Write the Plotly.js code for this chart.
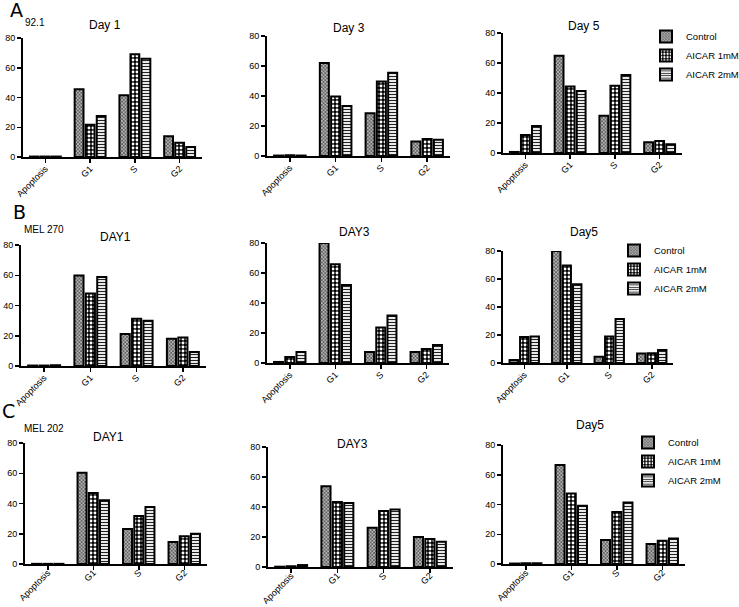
<!DOCTYPE html>
<html>
<head>
<meta charset="utf-8">
<script src="https://cdn.plot.ly/plotly-3.0.1.min.js"></script>
<style>html,body{margin:0;padding:0;background:#fff;}#chart{width:739px;height:607px;}</style>
</head>
<body>
<div id="chart"></div>
<script>
// ---- data ----
const categories = ['Apoptosis', 'G1', 'S', 'G2'];
const seriesNames = ['Control', 'AICAR 1mM', 'AICAR 2mM'];
const yTicks = [0, 20, 40, 60, 80];

// each panel: [Control, AICAR 1mM, AICAR 2mM], values per category
const A_DAY1 = [[0.3, 45.5, 41.5, 14.0], [0.3, 21.7, 69.0, 9.6], [0.3, 27.6, 66.0, 6.7]];
const A_DAY3 = [[0.3, 62.0, 28.5, 9.6], [0.5, 39.6, 49.7, 11.4], [0.3, 33.4, 55.5, 10.9]];
const A_DAY5 = [[0.7, 64.9, 24.9, 7.1], [12.0, 44.4, 44.9, 8.0], [18.0, 41.3, 52.0, 5.8]];
const B_DAY1 = [[0.3, 59.8, 21.1, 18.0], [0.3, 47.9, 31.2, 18.9], [0.5, 58.9, 29.9, 9.2]];
const B_DAY3 = [[0.7, 80.0, 7.4, 7.4], [4.0, 65.9, 23.7, 9.4], [7.4, 52.0, 31.7, 12.0]];
const B_DAY5 = [[2.1, 80.0, 4.5, 6.7], [18.5, 69.6, 19.0, 6.9], [19.0, 56.3, 31.4, 9.3]];
const C_DAY1 = [[0.1, 60.4, 23.1, 14.5], [0.1, 46.9, 31.7, 18.3], [0.1, 42.1, 37.7, 20.0]];
const C_DAY3 = [[0.2, 53.8, 26.2, 20.0], [0.5, 43.3, 37.3, 18.7], [1.3, 42.7, 38.4, 16.9]];
const C_DAY5 = [[0.3, 66.6, 16.1, 13.4], [0.5, 47.4, 34.9, 15.6], [0.5, 39.1, 41.3, 17.2]];

const panelData = [A_DAY1, A_DAY3, A_DAY5, B_DAY1, B_DAY3, B_DAY5, C_DAY1, C_DAY3, C_DAY5];
const panelTitles = ['Day 1', 'Day 3', 'Day 5', 'DAY1', 'DAY3', 'Day5', 'DAY1', 'DAY3', 'Day5'];
const rowLetters = ['A', 'B', 'C'];
const cellLines = ['92.1', 'MEL 270', 'MEL 202'];

// ---- layout geometry (pixels) ----
const W = 739, H = 607;
// [left, right, top(80), bottom(0)]
const boxes = [
  [23, 202, 38, 157], [267, 450, 36, 156], [503, 682, 33, 153],
  [21, 206, 245, 366], [267, 449, 243, 363], [503, 673, 251, 363],
  [25, 207, 443, 564], [268, 453, 447, 567], [503, 685, 445, 564]
];
const titlePos = [[105, 25], [349, 28], [584, 26], [115, 237], [354, 232], [584, 232], [108, 437], [352, 444], [590, 425]];
const letterPos = [[16, 10], [19, 212], [8, 411]];
const cellPos = [[35, 22], [44, 230], [44, 428]];
const labelStandoff = [-3, -3, -6];
// legend left edge / top edge
const legendPos = [[646, 22], [614, 236], [628, 428]];

const px = v => v / W;
const py = v => 1 - v / H;

const FONT = 'Liberation Sans, Arial, sans-serif';
const patterns = [
  {shape: 'x', bgcolor: '#b4b4b4', fgcolor: '#333333', size: 2.5, solidity: 0.4},
  {shape: '.', bgcolor: '#000000', fgcolor: '#ffffff', size: 4, solidity: 0.42},
  {shape: '-', bgcolor: '#ffffff', fgcolor: '#222222', size: 3, solidity: 0.4}
];

const traces = [];
const layout = {
  width: W, height: H,
  margin: {l: 0, r: 0, t: 0, b: 0, autoexpand: false},
  paper_bgcolor: '#fff', plot_bgcolor: 'rgba(0,0,0,0)',
  barmode: 'group', bargap: 0.26, bargroupgap: 0.2,
  font: {family: FONT, color: '#000'},
  annotations: [],
  showlegend: true
};

panelData.forEach((panel, p) => {
  const n = p + 1;
  const row = Math.floor(p / 3);
  const xa = 'x' + (n === 1 ? '' : n), ya = 'y' + (n === 1 ? '' : n);
  const legendName = ['legend', 'legend2', 'legend3'][row];
  const showLeg = (p % 3 === 2);
  panel.forEach((vals, s) => {
    traces.push({
      type: 'bar', x: categories, y: vals, name: seriesNames[s],
      xaxis: xa, yaxis: ya, legend: legendName, showlegend: showLeg,
      cliponaxis: false, hoverinfo: 'x+y+name',
      marker: {color: patterns[s].bgcolor, line: {color: '#000', width: 2}, pattern: patterns[s]}
    });
  });
  const b = boxes[p];
  layout['xaxis' + (n === 1 ? '' : n)] = {
    domain: [px(b[0]), px(b[1])], anchor: ya, type: 'category',
    categoryorder: 'array', categoryarray: categories, range: [-0.5, 3.5],
    showline: true, linecolor: '#000', linewidth: 2, ticks: 'outside', ticklen: 4, tickwidth: 1.5, tickcolor: '#000',
    tickangle: -45, ticklabelstandoff: labelStandoff[row], tickfont: {size: 9, family: FONT},
    showgrid: false, zeroline: false, fixedrange: true
  };
  layout['yaxis' + (n === 1 ? '' : n)] = {
    domain: [py(b[3]), py(b[2])], anchor: xa, range: [0, 80], tickvals: yTicks,
    showline: true, linecolor: '#000', linewidth: 2, ticks: 'outside', ticklen: 4, tickwidth: 1.5, tickcolor: '#000',
    tickfont: {size: 9, family: FONT}, showgrid: false, zeroline: false, fixedrange: true
  };
  layout.annotations.push({
    text: panelTitles[p], xref: 'paper', yref: 'paper', x: px(titlePos[p][0]), y: py(titlePos[p][1]),
    xanchor: 'center', yanchor: 'middle', showarrow: false, font: {size: 12, family: FONT}
  });
});

rowLetters.forEach((L, r) => {
  layout.annotations.push({
    text: L, xref: 'paper', yref: 'paper', x: px(letterPos[r][0]), y: py(letterPos[r][1]),
    xanchor: 'center', yanchor: 'middle', showarrow: false, font: {size: 19, family: 'DejaVu Sans, sans-serif'}
  });
  layout.annotations.push({
    text: cellLines[r], xref: 'paper', yref: 'paper', x: px(cellPos[r][0]), y: py(cellPos[r][1]),
    xanchor: 'center', yanchor: 'middle', showarrow: false, font: {size: 10, family: FONT}
  });
});

['legend', 'legend2', 'legend3'].forEach((k, i) => {
  layout[k] = {
    x: px(legendPos[i][0]), y: py(legendPos[i][1]), xanchor: 'left', yanchor: 'top',
    xref: 'paper', yref: 'paper', bgcolor: 'rgba(0,0,0,0)', borderwidth: 0,
    font: {size: 9.5, family: FONT}, tracegroupgap: 0, traceorder: 'normal'
  };
});

Plotly.newPlot('chart', traces, layout, {displayModeBar: false, staticPlot: true});
</script>
</body>
</html>
